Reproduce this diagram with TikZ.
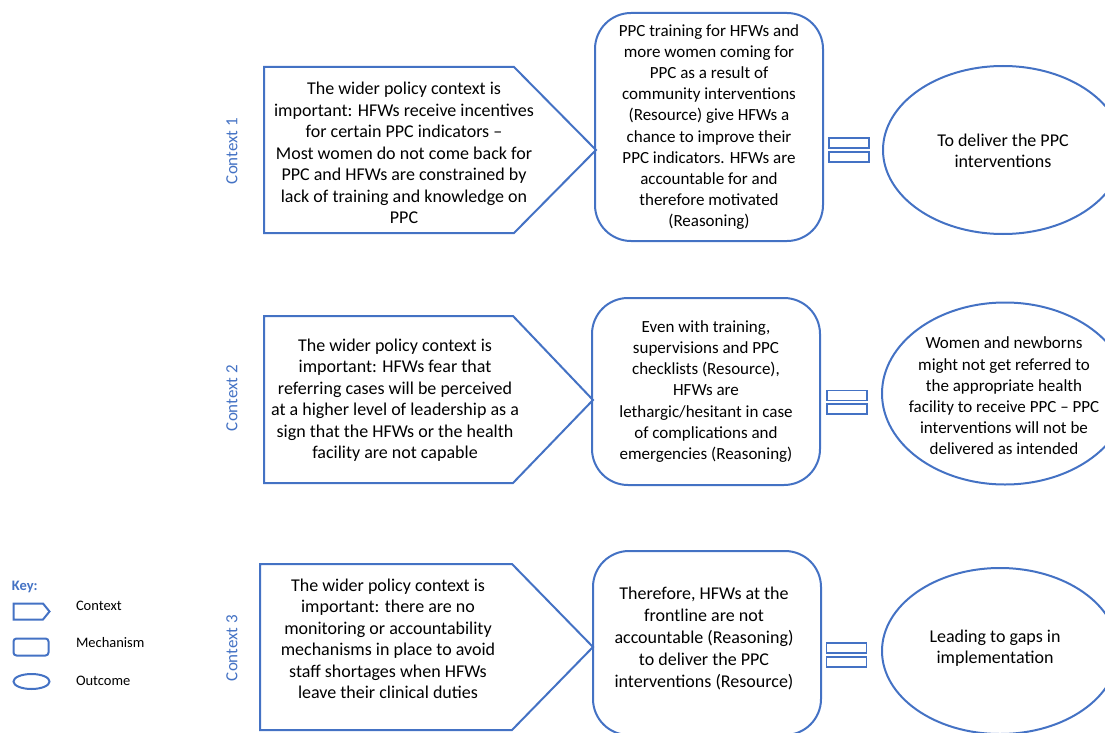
\documentclass[tikz,border=0pt]{standalone}
\usepackage{fontspec}
\setmainfont{Carlito}
\usetikzlibrary{shapes.geometric}
\definecolor{kb}{HTML}{4472C4}
\begin{document}
\begin{tikzpicture}[x=1pt,y=-1pt, line width=2pt,
 body/.style={align=center, font=\fontsize{18}{21.5}\selectfont, inner sep=0pt, text=black},
 mbody/.style={align=center, font=\fontsize{17}{21.2}\selectfont, inner sep=0pt, text=black},
 ctx/.style={draw=kb, line join=miter},
 mech/.style={draw=kb, rounded corners=36pt, minimum width=228pt, inner sep=0pt, mbody},
 outc/.style={draw=kb, ellipse, inner sep=0pt},
 eqbar/.style={draw=kb, minimum width=40pt, minimum height=10pt, inner sep=0pt, line width=1.8pt},
 clabel/.style={text=kb, rotate=90, inner sep=0pt, font=\fontsize{17}{20}\selectfont},
 keytext/.style={font=\fontsize{14.5}{17}\selectfont, anchor=west, inner sep=0pt}]
\clip (0,0) rectangle (1105,733);

% ---------- Row 1 ----------
\node[clabel] (lab1) at (232,151) {Context 1};
\draw[ctx] (264,67) -- (514,67) -- (596,150) -- (514,233) -- (264,233) -- cycle;
\node[body] (c1) at (404,153) {The wider policy context is\\important: HFWs receive incentives\\for certain PPC indicators --\\Most women do not come back for\\PPC and HFWs are constrained by\\lack of training and knowledge on\\PPC};
\node[mech, minimum height=228pt] (m1) at (709,127) {PPC training for HFWs and\\more women coming for\\PPC as a result of\\community interventions\\(Resource) give HFWs a\\chance to improve their\\PPC indicators. HFWs are\\accountable for and\\therefore motivated\\(Reasoning)};
\node[eqbar] (e1a) at (849,143) {};
\node[eqbar] (e1b) at (849,157) {};
\node[outc, minimum width=240pt, minimum height=168pt] (o1) at (1003,150) {};
\node[body] (o1t) at (1003,151) {To deliver the PPC\\interventions};

% ---------- Row 2 ----------
\node[clabel] (lab2) at (232,398) {Context 2};
\draw[ctx] (264,316) -- (513,316) -- (593,400) -- (513,483) -- (264,483) -- cycle;
\node[body] (c2) at (395,400) {The wider policy context is\\important: HFWs fear that\\referring cases will be perceived\\at a higher level of leadership as a\\sign that the HFWs or the health\\facility are not capable};
\node[mech, minimum height=187pt] (m2) at (706,391.5) {Even with training,\\supervisions and PPC\\checklists (Resource),\\HFWs are\\lethargic/hesitant in case\\of complications and\\emergencies (Reasoning)};
\node[eqbar] (e2a) at (847,395.5) {};
\node[eqbar] (e2b) at (847,409) {};
\node[outc, minimum width=246pt, minimum height=182pt] (o2) at (1005,393.5) {};
\node[mbody] (o2t) at (1004,396) {Women and newborns\\might not get referred to\\the appropriate health\\facility to receive PPC -- PPC\\interventions will not be\\delivered as intended};

% ---------- Row 3 ----------
\node[clabel] (lab3) at (232,648) {Context 3};
\draw[ctx] (260,564) -- (512,564) -- (593,647) -- (512,730) -- (260,730) -- cycle;
\node[body] (c3) at (388,639) {The wider policy context is\\important: there are no\\monitoring or accountability\\mechanisms in place to avoid\\staff shortages when HFWs\\leave their clinical duties};
\node[mech, minimum height=184pt] (m3) at (707,643) {};
\node[align=center, font=\fontsize{18}{22.2}\selectfont, inner sep=0pt] (m3t) at (704,638.5) {Therefore, HFWs at the\\frontline are not\\accountable (Reasoning)\\to deliver the PPC\\interventions (Resource)};
\node[eqbar] (e3a) at (846.5,648) {};
\node[eqbar] (e3b) at (846.5,662) {};
\node[outc, minimum width=236pt, minimum height=166pt] (o3) at (1000,651) {};
\node[body] (o3t) at (995,648) {Leading to gaps in\\implementation};

% ---------- Key ----------
\node[keytext, text=kb, font=\bfseries\fontsize{14.5}{17}\selectfont] (keyt) at (11,587) {Key:};
\draw[kb, line width=2pt, line join=miter] (13.5,603.5) -- (43,603.5) -- (49.5,611.5) -- (43,619.5) -- (13.5,619.5) -- cycle;
\node[keytext] (kctx) at (75,606) {Context};
\node[draw=kb, rounded corners=3pt, minimum width=35pt, minimum height=17pt, inner sep=0pt] (krect) at (31,647) {};
\node[keytext] (kmech) at (75,643) {Mechanism};
\node[draw=kb, ellipse, minimum width=36pt, minimum height=15pt, inner sep=0pt] (kell) at (31.5,681.5) {};
\node[keytext] (kout) at (75,681) {Outcome};
\end{tikzpicture}
\end{document}
